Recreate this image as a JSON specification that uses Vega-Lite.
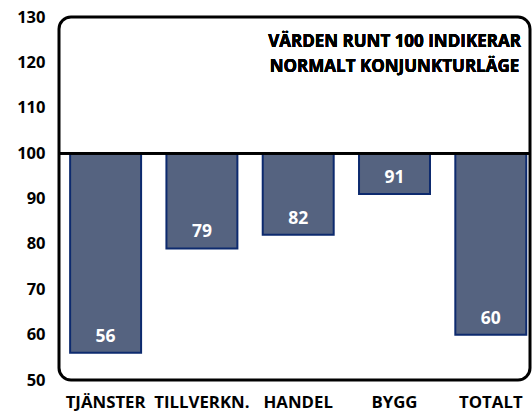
{
  "$schema": "https://vega.github.io/schema/vega-lite/v6.json",
  "width": 471,
  "height": 363,
  "autosize": "none",
  "padding": {"left": 59, "top": 17, "right": 2, "bottom": 34},
  "background": "white",
  "config": {
    "view": {"stroke": "black", "strokeWidth": 3, "cornerRadius": 12},
    "font": "Open Sans",
    "axis": {"domain": false, "ticks": false, "grid": false, "labelColor": "black", "labelFontWeight": "bold", "labelFontSize": 16.5, "labelFont": "Open Sans", "title": null}
  },
  "datasets": {
    "bars": [
      {"sector": "TJÄNSTER", "value": 56},
      {"sector": "TILLVERKN.", "value": 79},
      {"sector": "HANDEL", "value": 82},
      {"sector": "BYGG", "value": 91},
      {"sector": "TOTALT", "value": 60}
    ]
  },
  "data": {"name": "bars"},
  "encoding": {
    "x": {"field": "sector", "type": "nominal", "sort": null,
      "scale": {"paddingInner": 0.263, "paddingOuter": 0.077, "align": 0.75},
      "axis": {"labelAngle": 0, "labelPadding": 14, "labelFontSize": 16.8}},
    "y": {"field": "value", "type": "quantitative",
      "scale": {"domain": [50, 130], "nice": false, "zero": false},
      "axis": {"values": [50, 60, 70, 80, 90, 100, 110, 120, 130], "labelPadding": 14}}
  },
  "layer": [
    {"mark": {"type": "bar", "fill": "#556380", "stroke": "#0d2a6e", "strokeWidth": 2},
     "encoding": {"y2": {"datum": 100}}},
    {"mark": {"type": "text", "color": "white", "fontWeight": "bold", "fontSize": 17.5, "baseline": "middle", "dy": -16},
     "encoding": {"text": {"field": "value"}}},
    {"mark": {"type": "rule", "color": "black", "strokeWidth": 2.5},
     "encoding": {"y": {"datum": 100}, "x": {"value": 0}, "x2": {"value": 471}}},
    {"mark": {"type": "text", "fontWeight": "bold", "fontSize": 17, "baseline": "middle", "align": "center", "lineHeight": 25, "color": "black"},
     "encoding": {"x": {"datum": "BYGG"}, "y": {"datum": 124.6},
       "text": {"value": ["VÄRDEN RUNT 100 INDIKERAR", "NORMALT KONJUNKTURLÄGE"]}}}
  ]
}
